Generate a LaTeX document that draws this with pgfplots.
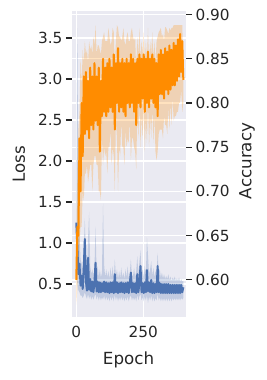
\documentclass[border=0pt]{standalone}
\usepackage{pgfplots}
\pgfplotsset{compat=1.18}
\usepackage{pgfplotstable}
\usepgfplotslibrary{fillbetween}
\usepackage{fontspec}
\setmainfont{DejaVu Sans}
\definecolor{bgc}{HTML}{EAEAF2}
\definecolor{txt}{HTML}{262626}
\definecolor{sblue}{HTML}{4C72B0}
\definecolor{sorange}{HTML}{FF8C00}

\pgfplotstableread{
t m lo hi
0 1.25 0.60 1.60
4 0.95 0.50 3.62
8 0.62 0.42 1.43
12 0.75 0.40 1.10
16 0.48 0.36 0.80
20 0.60 0.36 0.75
24 0.44 0.33 0.70
28 0.70 0.36 0.95
32 1.05 0.40 1.30
36 0.53 0.35 0.80
40 0.42 0.32 0.65
44 0.82 0.38 1.05
48 0.43 0.32 1.38
52 0.56 0.36 0.72
56 0.41 0.31 0.62
60 0.53 0.35 0.68
64 0.40 0.31 0.60
68 0.52 0.35 0.70
72 0.76 0.38 1.20
76 0.41 0.31 0.62
80 0.53 0.36 0.72
84 0.40 0.30 0.58
88 0.52 0.35 0.68
92 0.40 0.30 0.58
96 0.51 0.34 0.64
100 0.41 0.31 1.48
104 0.53 0.36 0.74
108 0.40 0.30 0.58
112 0.52 0.35 0.68
116 0.40 0.30 0.58
120 0.51 0.34 0.66
124 0.39 0.29 0.56
128 0.52 0.35 0.70
132 0.40 0.30 0.58
136 0.52 0.35 0.72
140 0.39 0.29 0.56
144 0.62 0.37 0.80
148 0.40 0.30 0.60
152 0.52 0.35 0.68
156 0.39 0.29 0.56
160 0.51 0.34 0.66
164 0.40 0.30 0.57
168 0.52 0.35 0.70
172 0.40 0.30 0.58
176 0.51 0.34 0.64
180 0.39 0.29 0.56
184 0.51 0.34 0.68
188 0.40 0.30 0.58
192 0.52 0.35 0.72
196 0.39 0.29 0.56
200 0.51 0.34 0.64
204 0.64 0.36 0.80
208 0.40 0.30 0.60
212 0.51 0.34 0.60
216 0.40 0.30 0.70
220 0.51 0.34 0.58
224 0.39 0.29 0.66
228 0.62 0.37 0.84
232 0.40 0.30 0.62
236 0.52 0.35 0.78
240 0.72 0.38 0.91
244 0.40 0.30 0.60
248 0.51 0.34 0.68
252 0.39 0.29 0.58
256 0.52 0.35 0.72
260 0.40 0.30 0.62
264 0.67 0.36 1.07
268 0.41 0.27 0.85
272 0.52 0.35 0.62
276 0.40 0.30 0.68
280 0.55 0.36 0.78
284 0.39 0.29 0.60
288 0.51 0.34 0.70
292 0.39 0.29 0.58
296 0.50 0.33 0.66
300 0.40 0.30 0.60
304 0.72 0.38 0.88
308 0.40 0.30 0.64
312 0.51 0.34 0.68
316 0.39 0.29 0.58
320 0.50 0.33 0.64
324 0.39 0.29 0.57
328 0.50 0.33 0.62
332 0.39 0.29 0.56
336 0.50 0.33 0.60
340 0.39 0.29 0.56
344 0.50 0.33 0.62
348 0.39 0.29 0.55
352 0.49 0.33 0.59
356 0.39 0.29 0.54
360 0.49 0.33 0.58
364 0.39 0.30 0.55
368 0.49 0.33 0.59
372 0.39 0.30 0.54
376 0.49 0.33 0.57
380 0.39 0.30 0.54
384 0.49 0.33 0.58
388 0.39 0.30 0.53
392 0.49 0.33 0.56
396 0.40 0.31 0.53
400 0.46 0.33 0.54
}\losstable

\pgfplotstableread{
t m lo hi
0 0.600 0.572 0.650
4 0.660 0.590 0.720
8 0.650 0.620 0.770
12 0.760 0.640 0.790
16 0.700 0.660 0.850
20 0.800 0.660 0.820
24 0.740 0.700 0.860
28 0.830 0.690 0.845
32 0.765 0.720 0.870
36 0.835 0.720 0.855
40 0.770 0.730 0.860
44 0.825 0.710 0.845
48 0.760 0.720 0.870
52 0.840 0.730 0.860
56 0.775 0.730 0.865
60 0.830 0.700 0.855
64 0.770 0.730 0.875
68 0.845 0.740 0.865
72 0.780 0.740 0.888
76 0.830 0.730 0.855
80 0.775 0.730 0.865
84 0.840 0.700 0.865
88 0.745 0.700 0.860
92 0.825 0.690 0.855
96 0.785 0.760 0.870
100 0.850 0.730 0.875
104 0.790 0.750 0.880
108 0.840 0.740 0.870
112 0.785 0.745 0.870
116 0.845 0.720 0.870
120 0.790 0.750 0.885
124 0.850 0.750 0.875
128 0.795 0.770 0.865
132 0.840 0.730 0.870
136 0.790 0.750 0.885
140 0.855 0.740 0.880
144 0.770 0.700 0.840
148 0.845 0.780 0.870
152 0.800 0.760 0.888
156 0.862 0.700 0.885
160 0.790 0.750 0.875
164 0.845 0.740 0.875
168 0.795 0.780 0.870
172 0.850 0.750 0.875
176 0.790 0.750 0.885
180 0.845 0.730 0.870
184 0.785 0.770 0.865
188 0.850 0.750 0.875
192 0.800 0.760 0.880
196 0.845 0.755 0.870
200 0.795 0.780 0.870
204 0.855 0.735 0.880
208 0.800 0.760 0.885
212 0.850 0.760 0.875
216 0.790 0.750 0.870
220 0.845 0.745 0.875
224 0.775 0.725 0.835
228 0.850 0.790 0.875
232 0.800 0.760 0.855
236 0.855 0.800 0.885
240 0.795 0.750 0.850
244 0.850 0.785 0.870
248 0.805 0.760 0.855
252 0.855 0.795 0.880
256 0.790 0.745 0.845
260 0.850 0.780 0.870
264 0.800 0.755 0.850
268 0.858 0.800 0.885
272 0.795 0.750 0.845
276 0.850 0.785 0.870
280 0.805 0.760 0.855
284 0.855 0.795 0.880
288 0.800 0.755 0.850
292 0.850 0.785 0.870
296 0.795 0.745 0.845
300 0.845 0.735 0.870
304 0.785 0.745 0.875
308 0.855 0.765 0.880
312 0.810 0.770 0.882
316 0.860 0.770 0.885
320 0.810 0.770 0.875
324 0.855 0.760 0.878
328 0.805 0.785 0.870
332 0.862 0.775 0.886
336 0.815 0.775 0.885
340 0.858 0.765 0.882
344 0.810 0.795 0.878
348 0.865 0.770 0.885
352 0.815 0.800 0.882
356 0.860 0.775 0.885
360 0.820 0.805 0.885
364 0.868 0.780 0.888
368 0.820 0.785 0.888
372 0.865 0.785 0.888
376 0.825 0.790 0.888
380 0.872 0.790 0.888
384 0.830 0.800 0.888
388 0.878 0.800 0.888
392 0.835 0.815 0.888
396 0.870 0.790 0.888
400 0.826 0.800 0.850
}\acctable

\pgfplotsset{
  common/.style={
    at={(0pt,0pt)}, anchor=south west,
    scale only axis, width=114pt, height=306pt,
    xmin=-16, xmax=410,
    axis line style={draw=none},
    grid=major, grid style={white, line width=1.3pt},
    xtick={0,250},
    xtick style={draw=none},
    major tick length=6pt, tick align=outside,
    ytick style={draw=txt, line width=1.2pt},
    tick label style={font=\fontsize{15.3}{18}\selectfont, text=txt},
    label style={font=\fontsize{16.7}{20}\selectfont, text=txt},
    /pgf/number format/assume math mode=true,
    clip=true,
  }
}

\begin{document}
\begin{tikzpicture}
\begin{axis}[common,
  axis background/.style={fill=bgc},
  ymin=0.098, ymax=3.83,
  ytick={0.5,1.0,1.5,2.0,2.5,3.0,3.5},
  ytick pos=left,
  yticklabel style={/pgf/number format/fixed, /pgf/number format/fixed zerofill, /pgf/number format/precision=1},
  xlabel={Epoch}, ylabel={Loss},
  xlabel style={at={(axis description cs:0.496,-0.1405)}, anchor=center},
  ylabel style={at={(axis description cs:-0.465,0.5)}, anchor=center},
]
\addplot[draw=none, name path=lu] table[x=t, y=hi] {\losstable};
\addplot[draw=none, name path=ll] table[x=t, y=lo] {\losstable};
\addplot[sblue, fill opacity=0.25, draw=none] fill between[of=lu and ll];
\addplot[sblue, line width=2pt, line join=round] table[x=t, y=m] {\losstable};
\end{axis}
\begin{axis}[common,
  ymin=0.558, ymax=0.904,
  ytick={0.60,0.65,0.70,0.75,0.80,0.85,0.90},
  ytick pos=right,
  xticklabels={},
  yticklabel style={/pgf/number format/fixed, /pgf/number format/fixed zerofill, /pgf/number format/precision=2},
  ylabel={Accuracy},
  ylabel style={at={(axis description cs:1.535,0.51)}, anchor=center},
]
\addplot[draw=none, name path=au] table[x=t, y=hi] {\acctable};
\addplot[draw=none, name path=al] table[x=t, y=lo] {\acctable};
\addplot[sorange, fill opacity=0.25, draw=none] fill between[of=au and al];
\addplot[sorange, line width=2pt, line join=round] table[x=t, y=m] {\acctable};
\end{axis}
\pgfresetboundingbox
\path[use as bounding box] (-72pt,-63pt) rectangle (195pt,317pt);
\end{tikzpicture}
\end{document}
